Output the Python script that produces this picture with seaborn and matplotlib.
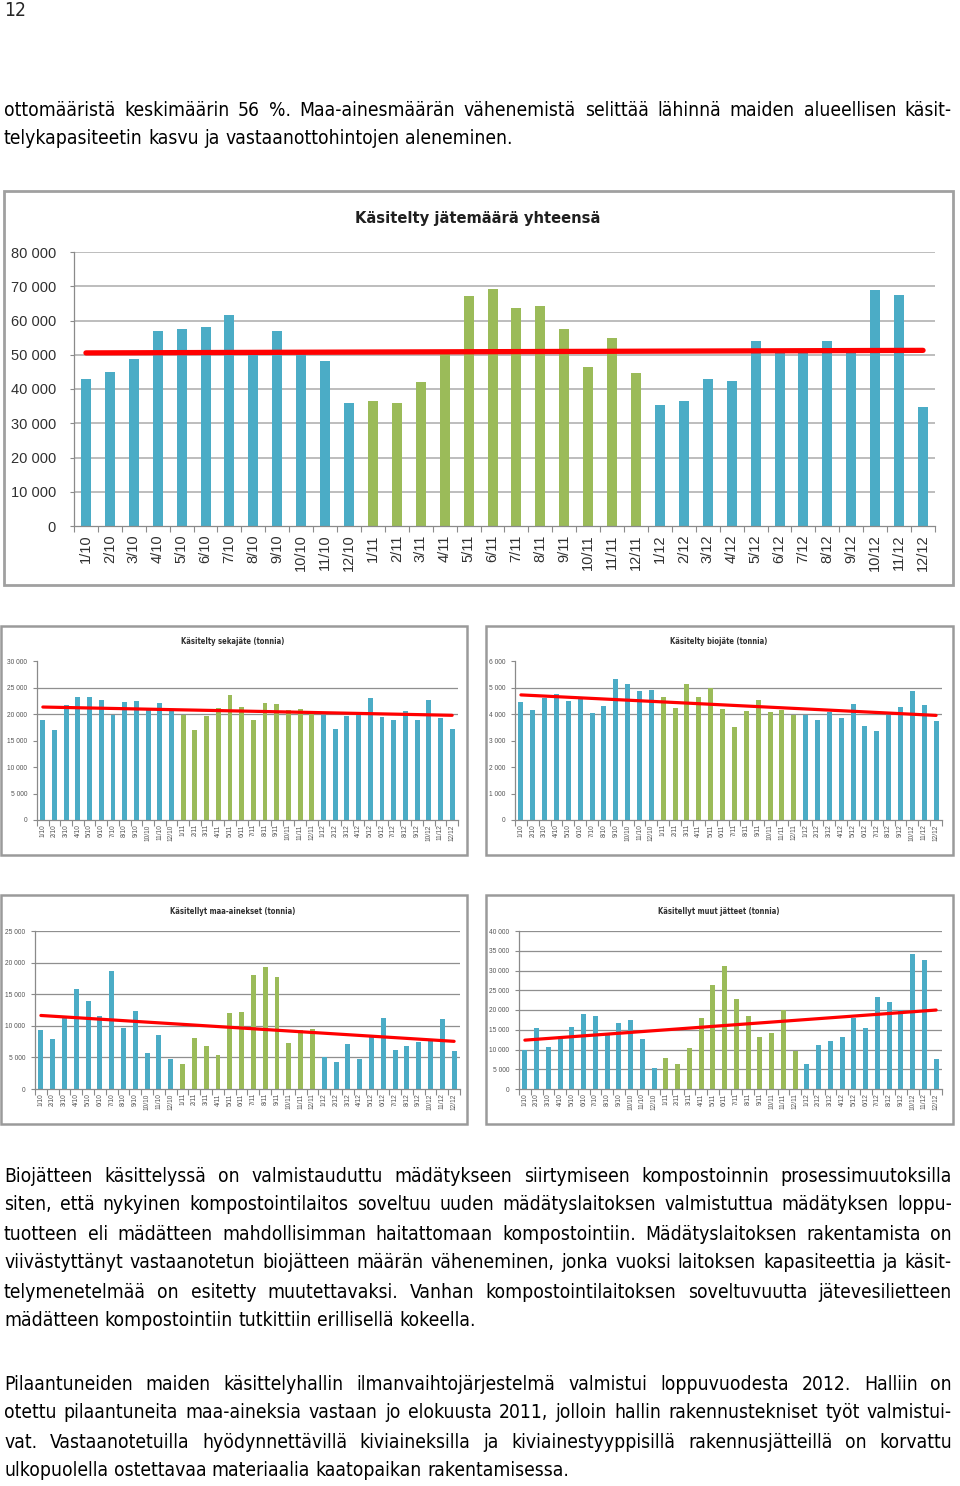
import matplotlib
matplotlib.use("Agg")
import matplotlib.pyplot as plt
import seaborn as sns
import numpy as np
import pandas as pd
from matplotlib import font_manager
from matplotlib.font_manager import FontProperties
from matplotlib.patches import Rectangle
from matplotlib.ticker import FuncFormatter, MultipleLocator

W, H = 960, 1486

# ---------------- data ----------------
months = ["1/10", "2/10", "3/10", "4/10", "5/10", "6/10", "7/10", "8/10", "9/10", "10/10", "11/10", "12/10",
          "1/11", "2/11", "3/11", "4/11", "5/11", "6/11", "7/11", "8/11", "9/11", "10/11", "11/11", "12/11",
          "1/12", "2/12", "3/12", "4/12", "5/12", "6/12", "7/12", "8/12", "9/12", "10/12", "11/12", "12/12"]
years = ["2010"] * 12 + ["2011"] * 12 + ["2012"] * 12

total = [43000, 45000, 48800, 56800, 57500, 58000, 61600, 50200, 57000, 50200, 48300, 35900,
         36600, 36000, 42000, 50200, 67200, 69300, 63600, 64300, 57600, 46500, 54800, 44600,
         35200, 36500, 42800, 42200, 54000, 50700, 50700, 53900, 50700, 69000, 67500, 34600]

sekajate = [18800, 17000, 21700, 23250, 23250, 22700, 19900, 22250, 22500, 20900, 22100, 20750,
            19900, 17000, 19600, 21100, 23600, 21400, 18800, 22100, 21800, 20700, 20900, 20300,
            19900, 17100, 19600, 20400, 23100, 19400, 18900, 20600, 18900, 22600, 19200, 17200]

biojate = [4440, 4160, 4610, 4740, 4500, 4590, 4050, 4290, 5310, 5150, 4860, 4900,
           4660, 4240, 5150, 4650, 4980, 4180, 3500, 4130, 4510, 4090, 4150, 3980,
           3980, 3780, 4090, 3840, 4390, 3550, 3340, 4010, 4250, 4880, 4350, 3740]

maa_ainekset = [9300, 7900, 11300, 15900, 13900, 11600, 18700, 9650, 12300, 5750, 8500, 4750,
                3900, 8100, 6850, 5400, 12100, 12200, 18000, 19250, 17700, 7300, 9300, 9500,
                5000, 4300, 7100, 4800, 8300, 11300, 6200, 6850, 7500, 7550, 11100, 6000]

muut_jatteet = [9950, 15500, 10700, 12600, 15600, 18900, 18400, 13700, 16700, 17550, 12650, 5400,
                7750, 6300, 10300, 18050, 26400, 31200, 22900, 18400, 13250, 14200, 19900, 9700,
                6250, 11200, 12150, 13200, 18100, 15500, 23300, 22000, 20100, 34300, 32700, 7700]

titles = ["Käsitelty jätemäärä yhteensä", "Käsitelty sekajäte (tonnia)", "Käsitelty biojäte (tonnia)",
          "Käsitellyt maa-ainekset (tonnia)", "Käsitellyt muut jätteet (tonnia)"]

page_number = "12"
para1 = ["ottomääristä keskimäärin 56 %. Maa-ainesmäärän vähenemistä selittää lähinnä maiden alueellisen käsit-",
         "telykapasiteetin kasvu ja vastaanottohintojen aleneminen."]
para2 = ["Biojätteen käsittelyssä on valmistauduttu mädätykseen siirtymiseen kompostoinnin prosessimuutoksilla",
         "siten, että nykyinen kompostointilaitos soveltuu uuden mädätyslaitoksen valmistuttua mädätyksen loppu-",
         "tuotteen eli mädätteen mahdollisimman haitattomaan kompostointiin. Mädätyslaitoksen rakentamista on",
         "viivästyttänyt vastaanotetun biojätteen määrän väheneminen, jonka vuoksi laitoksen kapasiteettia ja käsit-",
         "telymenetelmää on esitetty muutettavaksi. Vanhan kompostointilaitoksen soveltuvuutta jätevesilietteen",
         "mädätteen kompostointiin tutkittiin erillisellä kokeella."]
para3 = ["Pilaantuneiden maiden käsittelyhallin ilmanvaihtojärjestelmä valmistui loppuvuodesta 2012. Halliin on",
         "otettu pilaantuneita maa-aineksia vastaan jo elokuusta 2011, jolloin hallin rakennustekniset työt valmistui-",
         "vat. Vastaanotetuilla hyödynnettävillä kiviaineksilla ja kiviainestyyppisillä rakennusjätteillä on korvattu",
         "ulkopuolella ostettavaa materiaalia kaatopaikan rakentamisessa."]

BLUE = "#4BACC6"
GREEN = "#9BBB59"
RED = "#FF0000"

# ---------------- style ----------------
sns.set_theme(style="white")
plt.rcParams["font.family"] = ["Liberation Sans", "DejaVu Sans"]


def find_condensed(weight_ok):
    prefs = []
    for f in font_manager.fontManager.ttflist:
        if f.style != "normal" or not weight_ok(f.weight):
            continue
        nm = f.name
        st = str(f.stretch)
        if nm == "Liberation Sans Narrow":
            prefs.append((0, f.fname))
        elif nm.startswith("DejaVu Sans") and ("condensed" in st or "Condensed" in f.fname) and "Mono" not in nm:
            prefs.append((1, f.fname))
        elif "Condensed" in nm and "Mono" not in nm and "Serif" not in nm:
            prefs.append((2, f.fname))
    prefs.sort()
    return prefs[0][1] if prefs else None


def is_regular(w):
    return w in (400, "normal", "regular", "book")


def is_bold(w):
    return w in (700, "bold")


reg_path = find_condensed(is_regular)
bold_path = find_condensed(is_bold)
if reg_path:
    BODY_FP = FontProperties(fname=reg_path)
else:
    BODY_FP = FontProperties(family="Liberation Sans")
CHART_FP = FontProperties(family="Liberation Sans")
CHART_BOLD_FP = FontProperties(fname=bold_path) if bold_path else FontProperties(family="Liberation Sans",
                                                                                    weight="bold")

fig = plt.figure(figsize=(W / 100, H / 100), dpi=100)
fig.patch.set_facecolor("white")
renderer = fig.canvas.get_renderer()


def rect(x0, y0, x1, y1):
    return [x0 / W, 1 - y1 / H, (x1 - x0) / W, (y1 - y0) / H]


def border(x0, y0, x1, y1, color="#9a9a9a", lw=1.6):
    fig.patches.append(Rectangle((x0 / W, 1 - y1 / H), (x1 - x0) / W, (y1 - y0) / H,
                                 transform=fig.transFigure, fill=False, edgecolor=color, lw=lw))


def fp_size(fp, size):
    p = fp.copy()
    p.set_size(size)
    return p


# ---------------- body text with justification ----------------
X0, X1 = 4, 952


def measure(s, size):
    t = fig.text(0, 0, s, fontproperties=fp_size(BODY_FP, size))
    w = t.get_window_extent(renderer).width
    t.remove()
    return w


base = 17.5
all_lines = para1 + para2 + para3
natural = max(measure(l, base) for l in all_lines if not l.endswith("."))
BODY_SIZE = min(base, base * (X1 - X0) / natural * 0.985)
space_w = measure("a a", BODY_SIZE) - measure("aa", BODY_SIZE)


def draw_line(text, yc, justify):
    words = text.split(" ")
    objs, widths = [], []
    for w in words:
        t = fig.text(0, 0, w, fontproperties=fp_size(BODY_FP, BODY_SIZE), va="center", ha="left",
                     color="black")
        widths.append(t.get_window_extent(renderer).width)
        objs.append(t)
    if justify and len(words) > 1:
        gap = (X1 - X0 - sum(widths)) / (len(words) - 1)
    else:
        gap = space_w
    x = X0
    for t, w in zip(objs, widths):
        t.set_position((x / W, 1 - yc / H))
        x += w + gap


def draw_para(lines, y_first, step=29):
    for i, line in enumerate(lines):
        draw_line(line, y_first + i * step, justify=(i < len(lines) - 1))


fig.text(X0 / W, 1 - 10 / H, page_number, fontproperties=fp_size(BODY_FP, BODY_SIZE), va="center", ha="left")
draw_para(para1, 110)
draw_para(para2, 1176)
draw_para(para3, 1384)

# ---------------- chart helpers ----------------
df = pd.DataFrame({"kk": months, "vuosi": years, "yhteensa": total, "seka": sekajate,
                   "bio": biojate, "maa": maa_ainekset, "muut": muut_jatteet})
pal = {"2010": BLUE, "2011": GREEN, "2012": BLUE}
fmt = FuncFormatter(lambda v, p: f"{int(round(v)):,}".replace(",", " "))


def bar_chart(ax, col, ymax, step, grid_levels, trend_lw, tick_size, xtick_size, grid_color, grid_lw,
              xpad, ypad, label_color):
    sns.barplot(data=df, x="kk", y=col, hue="vuosi", palette=pal, dodge=False, width=0.42,
                saturation=1, legend=False, linewidth=0, ax=ax)
    xs = np.arange(len(months))
    coef = np.polyfit(xs, df[col].to_numpy(dtype=float), 1)
    ax.plot(xs, np.polyval(coef, xs), color=RED, lw=trend_lw, solid_capstyle="round", zorder=5)
    ax.set_xlim(-0.5, len(months) - 0.5)
    ax.set_ylim(0, ymax)
    ax.yaxis.set_major_locator(MultipleLocator(step))
    ax.yaxis.set_major_formatter(fmt)
    ax.grid(False)
    for g in grid_levels:
        ax.axhline(g, color=grid_color, lw=grid_lw, zorder=0.5)
    ax.set_xlabel("")
    ax.set_ylabel("")
    for s in ("top", "right"):
        ax.spines[s].set_visible(False)
    for s in ("left", "bottom"):
        ax.spines[s].set_color("#8a8a8a")
        ax.spines[s].set_linewidth(0.9)
    ax.set_xticks(xs)
    ax.set_xticklabels(months, rotation=90, fontsize=xtick_size, color=label_color,
                       fontproperties=fp_size(CHART_FP, xtick_size))
    ax.set_xticks(np.arange(-0.5, len(months), 1.0), minor=True)
    ax.tick_params(axis="x", which="major", length=0, pad=xpad)
    ax.tick_params(axis="x", which="minor", length=4, color="#8a8a8a", width=0.8, direction="out",
                   bottom=True)
    ax.tick_params(axis="y", which="major", length=3, color="#8a8a8a", width=0.8, left=True,
                   labelsize=tick_size, labelcolor=label_color, pad=ypad)
    for lab in ax.get_yticklabels():
        lab.set_fontproperties(fp_size(CHART_FP, tick_size))


# ---------------- main chart ----------------
border(4, 191, 953, 585, color="#a0a0a0", lw=2.0)
ax0 = fig.add_axes(rect(74, 252, 935, 526))
bar_chart(ax0, "yhteensa", 80000, 10000, list(range(10000, 80001, 10000)), 3.8, 10.5, 10.5,
          "#b8b8b8", 1.3, 6, 10, "#303030")
fig.text(478 / W, 1 - 218 / H, titles[0], ha="center", va="center",
         fontproperties=fp_size(CHART_BOLD_FP, 11.8), color="#202020")

# ---------------- small charts ----------------
small = [
    ("seka", titles[1], (1, 626, 467, 855), (37, 661, 458, 820), 30000, 5000, [20000, 25000], (233, 641)),
    ("bio", titles[2], (486, 626, 953, 855), (515, 661, 942, 820), 6000, 1000, [4000, 5000], (719, 641)),
    ("maa", titles[3], (1, 895, 467, 1124), (35, 931, 460, 1089), 25000, 5000,
     [5000, 10000, 15000, 20000, 25000], (233, 911)),
    ("muut", titles[4], (486, 895, 953, 1124), (519, 931, 942, 1089), 40000, 5000,
     [5000, 10000, 15000, 20000, 25000, 30000, 35000, 40000], (719, 911)),
]
for col, ttl, brd, ar, ymax, step, glev, tpos in small:
    border(*brd, color="#9a9a9a", lw=1.8)
    ax = fig.add_axes(rect(*ar))
    bar_chart(ax, col, ymax, step, glev, 2.3, 4.8, 4.8, "#8f8f8f", 0.9, 3, 4, "#555555")
    fig.text(tpos[0] / W, 1 - tpos[1] / H, ttl, ha="center", va="center",
             fontproperties=fp_size(CHART_BOLD_FP, 5.5), color="#303030")

fig.savefig("out.png", dpi=100, facecolor="white")
